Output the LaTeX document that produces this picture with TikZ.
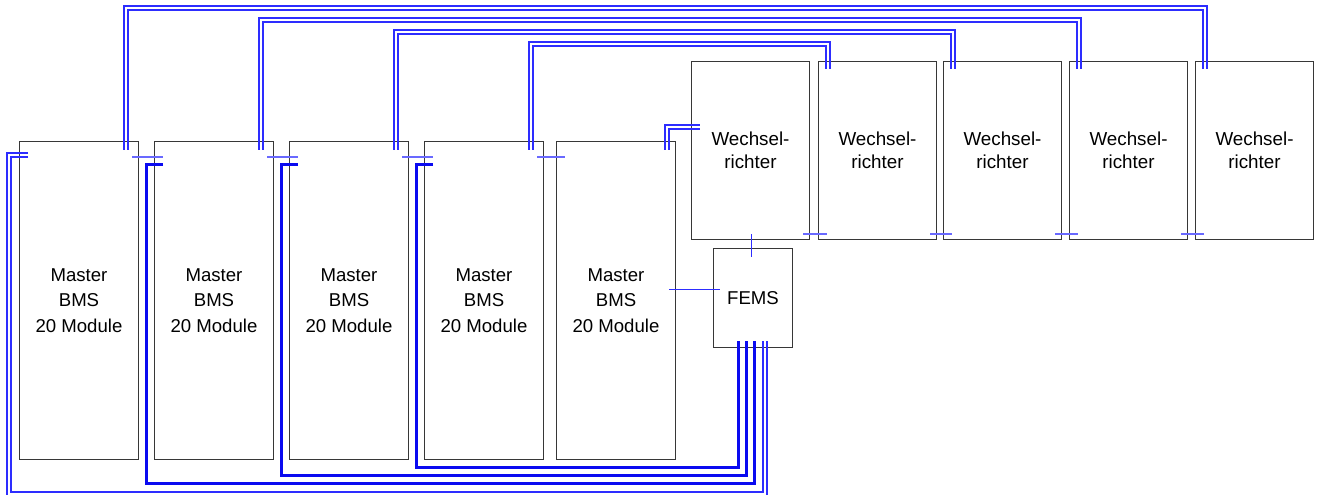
\documentclass[tikz,border=0pt]{standalone}
\usepackage{fontspec}
\setmainfont{Liberation Sans}
\usetikzlibrary{calc}
\definecolor{wire}{RGB}{45,45,255}
\definecolor{wirelight}{RGB}{105,105,255}
\definecolor{busblue}{RGB}{10,10,240}
\definecolor{boxline}{RGB}{55,55,55}
\begin{document}
\begin{tikzpicture}[x=1pt,y=-1pt,
  box/.style={draw=boxline, line width=1pt, inner sep=0pt, align=center, text=black,
    font=\fontsize{18.6}{25.5}\selectfont},
  bms/.style={box, minimum width=119pt, minimum height=318pt},
  wr/.style={box, minimum width=118pt, minimum height=178pt, font=\fontsize{18.8}{23.4}\selectfont},
  fems/.style={box, minimum width=79pt, minimum height=99pt},
  pair/.style={draw=wire, line width=1.6pt},
  bus/.style={draw=busblue, line width=2.3pt},
  tick/.style={draw=wirelight, line width=1.6pt},
  femstick/.style={draw=wire, line width=1.8pt}]
\useasboundingbox[fill=white] (0,0) rectangle (1330,495);

% BMS boxes
\node[bms] (b1) at (79,300.5) {Master\\BMS\\20 Module};
\node[bms] (b2) at (214,300.5) {Master\\BMS\\20 Module};
\node[bms] (b3) at (349,300.5) {Master\\BMS\\20 Module};
\node[bms] (b4) at (484,300.5) {Master\\BMS\\20 Module};
\node[bms] (b5) at (616,300.5) {Master\\BMS\\20 Module};

% Wechselrichter boxes
\node[wr] (w1) at (750.5,150.5) {Wechsel-\\richter};
\node[wr] (w2) at (877.5,150.5) {Wechsel-\\richter};
\node[wr] (w3) at (1002.5,150.5) {Wechsel-\\richter};
\node[wr] (w4) at (1128.5,150.5) {Wechsel-\\richter};
\node[wr] (w5) at (1254.5,150.5) {Wechsel-\\richter};

% FEMS
\node[fems] (fems) at (753,298) {FEMS};

% top pairs BMS -> Wechselrichter
\foreach \b/\w/\d in {1/5/0,2/4/12,3/3/24,4/2/36}{
  \draw[pair] ($(b\b.north east)+(-15,8.5)$) -- ++(0,{-143.5+\d}) -| ($(w\w.north west)+(12,8.5)$);
  \draw[pair] ($(b\b.north east)+(-11,8.5)$) -- ++(0,{-139.5+\d}) -| ($(w\w.north west)+(8,8.5)$);
}
\draw[pair] ($(b5.north east)+(-11,8.5)$) |- ($(w1.north west)+(9,64)$);
\draw[pair] ($(b5.north east)+(-7,8.5)$) |- ($(w1.north west)+(9,68)$);

% ticks between boxes
\foreach \i/\j in {1/2,2/3,3/4,4/5}{
  \draw[tick] ($(b\i.north east)+(-7,16)$) -- ($(b\j.north west)+(9,16)$);
  \draw[tick] ($(w\i.south east)+(-7,-6)$) -- ($(w\j.south west)+(9,-6)$);
}

% FEMS links
\coordinate (ft) at ($(w1.south |- fems.north)+(1,9)$);
\draw[femstick] ($(w1.south)+(1,-6)$) -- (ft);
\coordinate (fi) at ($(fems.west)+(7,-8.5)$);
\draw[femstick] ($(b5.east |- fi)+(-7,0)$) -- (fi);

% bottom buses BMS -> FEMS
\draw[bus] ($(b4.north west)+(9,23.5)$) -- ($(b4.north west)+(-7.5,23.5)$) -- ++(0,303) -| ($(fems.south west)+(25.5,-7.5)$);
\draw[bus] ($(b3.north west)+(9,23.5)$) -- ($(b3.north west)+(-7.5,23.5)$) -- ++(0,311) -| ($(fems.south west)+(33.5,-7.5)$);
\draw[bus] ($(b2.north west)+(9,23.5)$) -- ($(b2.north west)+(-7.5,23.5)$) -- ++(0,319) -| ($(fems.south west)+(41.5,-7.5)$);
\draw[pair] ($(b1.north west)+(9,16)$) -- ($(b1.north west)+(-8,16)$) -- ++(0,335) -| ($(fems.south west)+(50,-7.5)$);
\draw[pair] ($(b1.north west)+(9,12)$) -- ($(b1.north west)+(-12,12)$) -- ++(0,347) -| ($(fems.south west)+(54,-7.5)$);
\end{tikzpicture}
\end{document}
